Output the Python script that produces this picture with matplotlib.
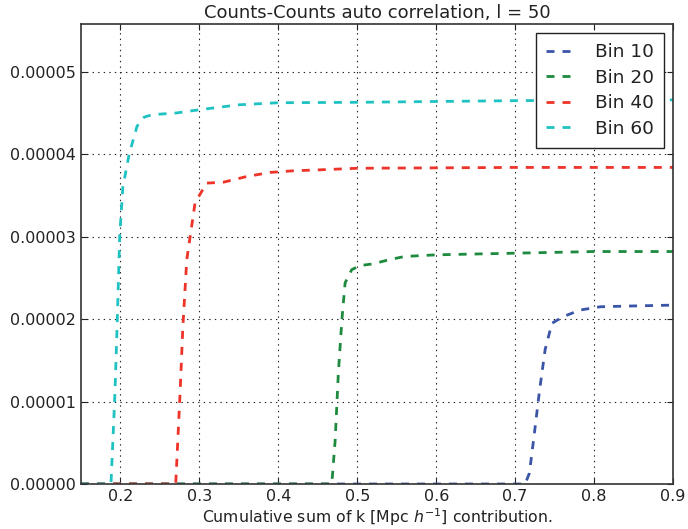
import matplotlib
matplotlib.use("Agg")
import matplotlib.pyplot as plt

plt.rcParams['font.family'] = ['DejaVu Sans']
plt.rcParams['lines.scale_dashes'] = False

labels = ["Bin 10", "Bin 20", "Bin 40", "Bin 60"]
colors = ["#3a55a8", "#1d8a3e", "#ee3328", "#1fc2c2"]

x_bin10 = [0.15, 0.50, 0.7127, 0.718, 0.7233, 0.731, 0.738, 0.7466, 0.761, 0.782, 0.808, 0.85, 0.9]
y_bin10 = [0, 0, 0, 0.13e-5, 0.53e-5, 1.14e-5, 1.63e-5, 1.95e-5, 2.03e-5, 2.11e-5, 2.15e-5, 2.16e-5, 2.17e-5]

x_bin20 = [0.15, 0.4677, 0.472, 0.476, 0.4805, 0.4846, 0.493, 0.5036, 0.52, 0.54, 0.56, 0.6, 0.7, 0.8, 0.9]
y_bin20 = [0, 0, 0.53e-5, 1.34e-5, 1.99e-5, 2.44e-5, 2.60e-5, 2.65e-5, 2.67e-5, 2.72e-5, 2.76e-5, 2.78e-5, 2.80e-5, 2.82e-5, 2.82e-5]

x_bin40 = [0.15, 0.270, 0.2755, 0.279, 0.284, 0.2945, 0.309, 0.33, 0.36, 0.39, 0.42, 0.45, 0.50, 0.7, 0.9]
y_bin40 = [0, 0, 1.1e-5, 1.9e-5, 2.72e-5, 3.41e-5, 3.65e-5, 3.66e-5, 3.73e-5, 3.78e-5, 3.80e-5, 3.81e-5, 3.83e-5, 3.84e-5, 3.84e-5]

x_bin60 = [0.15, 0.188, 0.193, 0.196, 0.199, 0.203, 0.211, 0.221, 0.23, 0.24, 0.27, 0.30, 0.35, 0.40, 0.50, 0.70, 0.90]
y_bin60 = [0, 0, 1.1e-5, 2.0e-5, 3.0e-5, 3.6e-5, 4.0e-5, 4.34e-5, 4.45e-5, 4.48e-5, 4.50e-5, 4.54e-5, 4.60e-5, 4.625e-5, 4.63e-5, 4.65e-5, 4.66e-5]

xs = [x_bin10, x_bin20, x_bin40, x_bin60]
ys = [y_bin10, y_bin20, y_bin40, y_bin60]

fig = plt.figure(figsize=(6.88, 5.29), dpi=100)
ax = fig.add_axes([81/688, 1-484/529, (673-81)/688, (484-24)/529])

for x, y, c, lab in zip(xs, ys, colors, labels):
    ax.plot(x, y, color=c, lw=2.0, ls=(0, (5.76, 5.76)), label=lab)

ax.set_xlim(0.15, 0.9)
ax.set_ylim(0, 5.58e-5)
ax.set_xticks([0.2, 0.3, 0.4, 0.5, 0.6, 0.7, 0.8, 0.9])
ax.set_xticklabels(["0.2", "0.3", "0.4", "0.5", "0.6", "0.7", "0.8", "0.9"])
ax.set_yticks([0, 1e-5, 2e-5, 3e-5, 4e-5, 5e-5])
ax.set_yticklabels(["0.00000", "0.00001", "0.00002", "0.00003", "0.00004", "0.00005"])
ax.tick_params(direction='in', top=True, right=True, labelsize=11.5, length=4.3, width=0.8,
               colors='#222222', labelcolor='#222222')
ax.grid(True, color='#222222', ls=(0, (1, 3)), lw=0.8)
for s in ax.spines.values():
    s.set_linewidth(1.2)
    s.set_color('#333333')

ax.set_title("Counts-Counts auto correlation, l = 50", fontsize=13, color='#222222', pad=4)
ax.set_xlabel(r"Cumulative sum of k [Mpc $h^{-1}$] contribution.", fontsize=11.3, color='#222222', labelpad=2)

leg = ax.legend(loc='upper right', fontsize=13.3, fancybox=False, framealpha=1, edgecolor='#222222',
                borderaxespad=0.5, borderpad=0.55, handlelength=1.33, handletextpad=1.3,
                labelspacing=0.4)
leg.get_frame().set_linewidth(1.0)
for t in leg.get_texts():
    t.set_color('#222222')

fig.savefig("out.png", dpi=100)
